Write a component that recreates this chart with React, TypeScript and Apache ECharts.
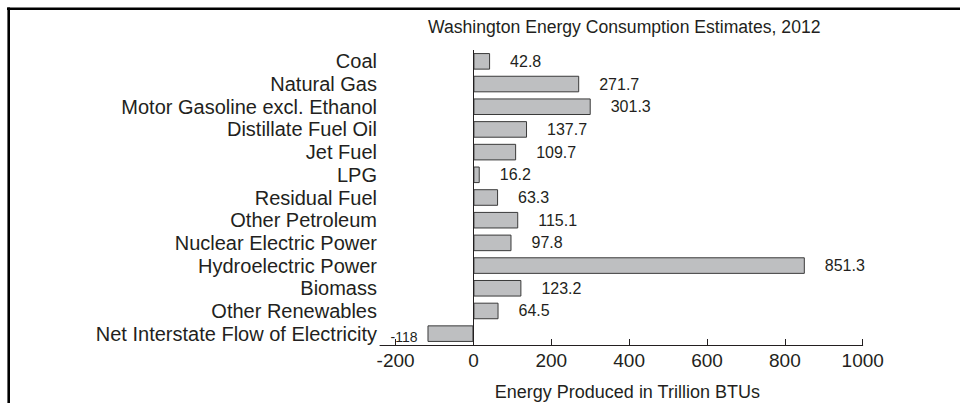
import React, { useEffect, useRef } from "react";
import * as echarts from "echarts";

const categories = [
  "Coal",
  "Natural Gas",
  "Motor Gasoline excl. Ethanol",
  "Distillate Fuel Oil",
  "Jet Fuel",
  "LPG",
  "Residual Fuel",
  "Other Petroleum",
  "Nuclear Electric Power",
  "Hydroelectric Power",
  "Biomass",
  "Other Renewables",
  "Net Interstate Flow of Electricity",
];
const values = [42.8, 271.7, 301.3, 137.7, 109.7, 16.2, 63.3, 115.1, 97.8, 851.3, 123.2, 64.5, -118];
const tickValues = [-200, 0, 200, 400, 600, 800, 1000];
const titleText = "Washington Energy Consumption Estimates, 2012";
const axisName = "Energy Produced in Trillion BTUs";

const FONT = "'Liberation Sans', Arial, sans-serif";
const TEXT = "#231f20";

export default function App() {
  const ref = useRef<HTMLDivElement>(null);
  useEffect(() => {
    if (!ref.current) return;
    const chart = echarts.init(ref.current, null, { renderer: "svg" });
    chart.setOption({
      animation: false,
      textStyle: { fontFamily: FONT },
      title: {
        text: titleText,
        left: 423,
        top: 13,
        textStyle: { fontSize: 17.6, fontWeight: "normal", color: TEXT, fontFamily: FONT },
      },
      grid: {
        left: 380,
        right: 97.3,
        top: 50,
        bottom: 58,
        containLabel: false,
        outerBoundsMode: "none",
      },
      xAxis: {
        type: "value",
        min: -240,
        max: 1000,
        axisLine: { show: true, onZero: false, lineStyle: { color: TEXT, width: 1 } },
        axisTick: { show: true, inside: true, length: 6, customValues: tickValues, lineStyle: { color: TEXT } },
        axisLabel: {
          customValues: tickValues,
          fontSize: 19,
          lineHeight: 20,
          color: TEXT,
          margin: 5,
          fontFamily: FONT,
          formatter: (v: number) => String(v),
        },
        splitLine: { show: false },
        name: axisName,
        nameLocation: "middle",
        nameGap: 38,
        nameTextStyle: { fontSize: 18, color: TEXT, fontFamily: FONT, padding: [0, 0, 0, 12] },
      },
      yAxis: {
        type: "category",
        inverse: true,
        data: categories,
        axisLine: { show: false },
        axisTick: { show: false },
        axisLabel: { interval: 0, fontSize: 20, lineHeight: 20, color: TEXT, margin: 3, fontFamily: FONT },
      },
      series: [
        {
          type: "bar",
          data: values.map((v) =>
            v < 0
              ? { value: v, label: { position: "left", distance: 10, fontSize: 14, offset: [0, 3] } }
              : { value: v }
          ),
          barCategoryGap: "27%",
          itemStyle: { color: "#bebfc1", borderColor: "#3a3a3a", borderWidth: 1 },
          label: {
            show: true,
            position: "right",
            distance: 20,
            fontSize: 16,
            lineHeight: 18,
            color: TEXT,
            fontFamily: FONT,
            formatter: (p: any) => String(p.value),
          },
          markLine: {
            silent: true,
            symbol: "none",
            label: { show: false },
            lineStyle: { color: TEXT, width: 1, type: "solid" },
            data: [{ xAxis: 0 }],
          },
        },
      ],
      graphic: [
        { type: "line", shape: { x1: 7, y1: 8.7, x2: 960, y2: 8.7 }, style: { stroke: "#000", lineWidth: 2.6 } },
        { type: "line", shape: { x1: 8.7, y1: 7.4, x2: 8.7, y2: 403 }, style: { stroke: "#000", lineWidth: 2.6 } },
      ],
    });
    return () => chart.dispose();
  }, []);
  return (
    <div
      ref={ref}
      style={{ position: "absolute", left: 0, top: 0, width: 960, height: 403, background: "#fff" }}
    />
  );
}
